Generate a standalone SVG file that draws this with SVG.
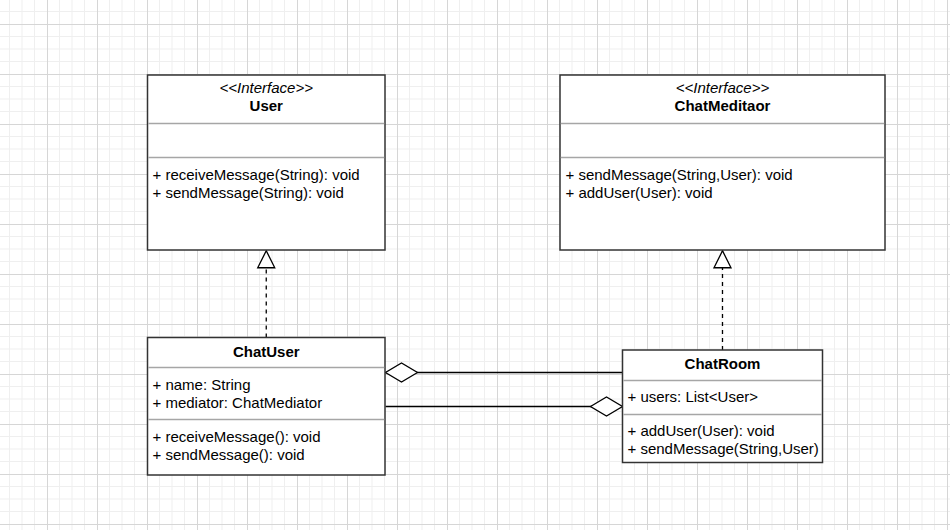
<svg xmlns="http://www.w3.org/2000/svg" width="950" height="530" viewBox="0 0 950 530">
  <style>
    .box { fill: #ffffff; stroke: #333333; stroke-width: 1.5; }
    .div { stroke: #a6a6a6; stroke-width: 1.3; fill: none; }
    .t { font-family: "Liberation Sans", Arial, sans-serif; font-size: 15px; fill: #000000; }
    .title { font-weight: bold; text-anchor: middle; }
    .stereo { font-style: italic; text-anchor: middle; }
    .conn { stroke: #000000; stroke-width: 1.3; fill: none; }
    .dash { stroke-dasharray: 4 4; }
  </style>
  <defs>
    <pattern id="grid" x="47" y="24" width="50" height="50" patternUnits="userSpaceOnUse">
      <path d="M12.5 0V50M25 0V50M37.5 0V50M0 12.5H50M0 25H50M0 37.5H50" stroke="#efefef" stroke-width="1" fill="none"/>
      <path d="M0.5 0V50M0 0.5H50" stroke="#d6d6d6" stroke-width="1" fill="none"/>
    </pattern>
    <marker id="diamond" markerUnits="userSpaceOnUse" markerWidth="36" markerHeight="24" refX="33" refY="11" orient="auto">
      <path d="M1,11 L17,1.5 L33,11 L17,20.5 Z" fill="#ffffff" stroke="#000000" stroke-width="1.3"/>
    </marker>
    <marker id="tri" markerUnits="userSpaceOnUse" markerWidth="22" markerHeight="22" refX="19" refY="10.5" orient="auto">
      <path d="M2,2 L19,10.5 L2,19 Z" fill="#ffffff" stroke="#000000" stroke-width="1.3" stroke-dasharray="none"/>
    </marker>
  </defs>
  <rect x="0" y="0" width="950" height="530" fill="#ffffff"/>
  <rect x="0" y="0" width="950" height="530" fill="url(#grid)"/>

  <g id="connectors">
    <path class="conn dash" d="M266.25,337.5 L266.25,250.75" marker-end="url(#tri)"/>
    <path class="conn dash" d="M722.5,350 L722.5,250.75" marker-end="url(#tri)"/>
    <path class="conn" d="M622.5,372.5 L385.5,372.5" marker-end="url(#diamond)"/>
    <path class="conn" d="M385.5,406.5 L622.5,406.5" marker-end="url(#diamond)"/>
  </g>

  <g id="User">
    <rect class="box" x="147.5" y="75" width="237.5" height="175"/>
    <line class="div" x1="148.25" y1="123.5" x2="384.25" y2="123.5"/>
    <line class="div" x1="148.25" y1="157.5" x2="384.25" y2="157.5"/>
    <text class="t stereo" x="266.25" y="92.5">&lt;&lt;Interface&gt;&gt;</text>
    <text class="t title" x="266.25" y="110.5">User</text>
    <text class="t" x="152.5" y="179.5">+ receiveMessage(String): void</text>
    <text class="t" x="152.5" y="197.5">+ sendMessage(String): void</text>
  </g>

  <g id="ChatMeditaor">
    <rect class="box" x="560" y="75" width="325" height="175"/>
    <line class="div" x1="560.75" y1="123.5" x2="884.25" y2="123.5"/>
    <line class="div" x1="560.75" y1="157.5" x2="884.25" y2="157.5"/>
    <text class="t stereo" x="722.5" y="92.5">&lt;&lt;Interface&gt;&gt;</text>
    <text class="t title" x="722.5" y="110.5">ChatMeditaor</text>
    <text class="t" x="565.5" y="179.5">+ sendMessage(String,User): void</text>
    <text class="t" x="565.5" y="197.5">+ addUser(User): void</text>
  </g>

  <g id="ChatUser">
    <rect class="box" x="147.5" y="337.5" width="237.5" height="137.5"/>
    <line class="div" x1="148.25" y1="367.5" x2="384.25" y2="367.5"/>
    <line class="div" x1="148.25" y1="419.5" x2="384.25" y2="419.5"/>
    <text class="t title" x="266.25" y="356.5">ChatUser</text>
    <text class="t" x="152.5" y="390">+ name: String</text>
    <text class="t" x="152.5" y="408">+ mediator: ChatMediator</text>
    <text class="t" x="152.5" y="442.3">+ receiveMessage(): void</text>
    <text class="t" x="152.5" y="460.3">+ sendMessage(): void</text>
  </g>

  <g id="ChatRoom">
    <rect class="box" x="622.5" y="350" width="200" height="112.5"/>
    <line class="div" x1="623.25" y1="380.5" x2="821.75" y2="380.5"/>
    <line class="div" x1="623.25" y1="414.5" x2="821.75" y2="414.5"/>
    <text class="t title" x="722.5" y="368.5">ChatRoom</text>
    <text class="t" x="627.5" y="402.3">+ users: List&lt;User&gt;</text>
    <text class="t" x="627.5" y="436">+ addUser(User): void</text>
    <text class="t" x="627.5" y="454">+ sendMessage(String,User)</text>
  </g>
</svg>
